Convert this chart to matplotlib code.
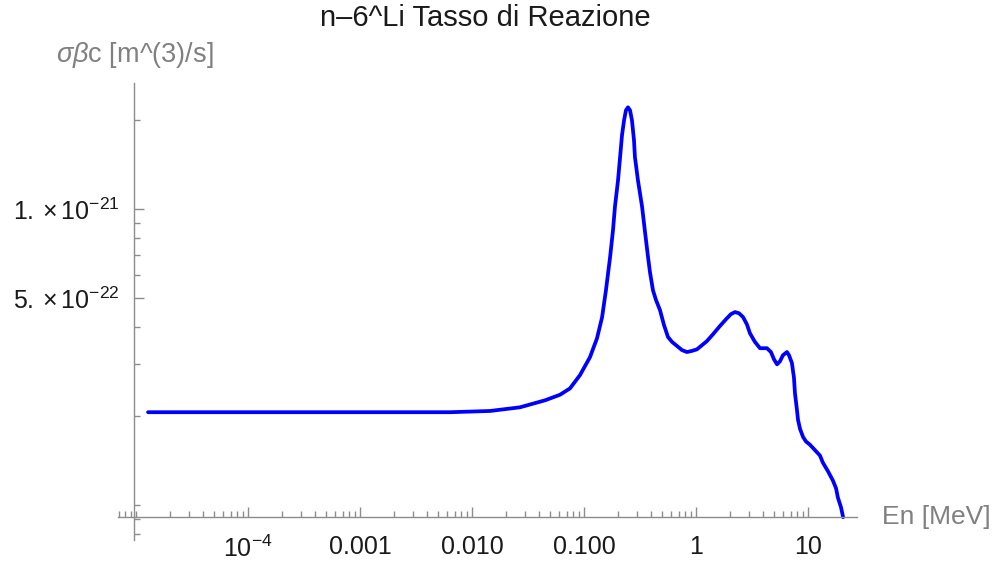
import numpy as np
import matplotlib.pyplot as plt
from matplotlib.ticker import FixedLocator, NullFormatter

plt.rcParams['font.family'] = ['Liberation Sans', 'DejaVu Sans']
plt.rcParams['mathtext.fontset'] = 'custom'
plt.rcParams['mathtext.rm'] = 'Liberation Sans'
plt.rcParams['mathtext.it'] = 'Liberation Sans:italic'

# neutron energy [MeV] and reaction rate sigma*beta*c [m^3/s]
energy = [1.28e-5, 1.04e-4, 8.1e-4, 6.4e-3, 0.0145, 0.0268, 0.0449, 0.0611,
          0.075, 0.0921, 0.113, 0.1306, 0.145, 0.157, 0.171, 0.1815, 0.189,
          0.2012, 0.21, 0.2185, 0.228, 0.237, 0.247, 0.2575, 0.268, 0.2795,
          0.285, 0.3034, 0.33, 0.3508, 0.373, 0.3884, 0.413, 0.4396, 0.477,
          0.5179, 0.562, 0.611, 0.676, 0.75, 0.831, 0.921, 1.02, 1.25, 1.42,
          1.637, 1.89, 2.053, 2.23, 2.42, 2.63, 2.85, 3.03, 3.36, 3.73, 3.96,
          4.30, 4.67, 4.97, 5.29, 5.62, 5.98, 6.49, 6.77, 7.19, 7.5, 7.65,
          7.98, 8.15, 8.49, 9.03, 9.6, 10.4, 12.0, 12.8, 13.6, 15.1, 16.7,
          17.8, 18.5, 19.7, 20.6]
rate = [2.06e-22, 2.06e-22, 2.06e-22, 2.06e-22, 2.08e-22, 2.14e-22, 2.26e-22,
        2.36e-22, 2.48e-22, 2.75e-22, 3.16e-22, 3.66e-22, 4.31e-22, 5.32e-22,
        6.89e-22, 8.49e-22, 1.02e-21, 1.25e-21, 1.50e-21, 1.78e-21, 2.00e-21,
        2.16e-21, 2.21e-21, 2.16e-21, 2.00e-21, 1.71e-21, 1.50e-21, 1.25e-21,
        1.02e-21, 8.36e-22, 6.89e-22, 6.12e-22, 5.32e-22, 4.93e-22, 4.56e-22,
        4.06e-22, 3.70e-22, 3.56e-22, 3.45e-22, 3.34e-22, 3.29e-22, 3.32e-22,
        3.36e-22, 3.58e-22, 3.78e-22, 4.03e-22, 4.28e-22, 4.42e-22, 4.49e-22,
        4.45e-22, 4.32e-22, 4.08e-22, 3.81e-22, 3.56e-22, 3.39e-22, 3.39e-22,
        3.39e-22, 3.29e-22, 3.11e-22, 2.99e-22, 3.06e-22, 3.21e-22, 3.29e-22,
        3.21e-22, 3.02e-22, 2.69e-22, 2.39e-22, 2.09e-22, 1.94e-22, 1.81e-22,
        1.70e-22, 1.64e-22, 1.60e-22, 1.51e-22, 1.47e-22, 1.39e-22, 1.30e-22,
        1.21e-22, 1.14e-22, 1.06e-22, 9.84e-23, 9.1e-23]

x_major = [1e-4, 1e-3, 1e-2, 1e-1, 1, 10]
x_labels = [r'$10^{-4}$', '0.001', '0.010', '0.100', '1', '10']
y_major = [5e-22, 1e-21]
y_labels = [r'$5.\times10^{-22}$', r'$1.\times10^{-21}$']
y_minor = [8e-23, 9e-23, 1e-22, 2e-22, 3e-22, 4e-22, 6e-22, 7e-22, 8e-22, 9e-22, 2e-21]

W, H = 995, 566
fig = plt.figure(figsize=(W / 100, H / 100), dpi=100)
ax = fig.add_axes([118 / W, (H - 540) / H, (857 - 118) / W, (540 - 83) / H])

ax.plot(energy, rate, color='#0000ff', lw=2.7, solid_capstyle='round',
        solid_joinstyle='round')

ax.set_xscale('log')
ax.set_yscale('log')
ax.set_xlim(6.9e-6, 27.4)
ax.set_ylim(7.62e-23, 2.67e-21)

# Mathematica-like axes crossing inside the frame
for s in ['top', 'right']:
    ax.spines[s].set_visible(False)
ax.spines['left'].set_position(('data', 9.6e-6))
ax.spines['bottom'].set_position(('data', 9.1e-23))
for s in ['left', 'bottom']:
    ax.spines[s].set_color('#8c8c8c')
    ax.spines[s].set_linewidth(1.0)

x_minor = [m * 10.0 ** d for d in range(-6, 2) for m in range(2, 10)] + [1e-5]
ax.xaxis.set_major_locator(FixedLocator(x_major))
ax.xaxis.set_minor_locator(FixedLocator(x_minor))
ax.set_xticklabels(x_labels)
ax.xaxis.set_minor_formatter(NullFormatter())

ax.yaxis.set_major_locator(FixedLocator(y_major))
ax.yaxis.set_minor_locator(FixedLocator(y_minor))
ax.set_yticklabels(y_labels)
ax.yaxis.set_minor_formatter(NullFormatter())

ax.tick_params(which='both', direction='in', color='#8c8c8c', width=1.0,
               labelcolor='#1a1a1a', labelsize=18)
ax.tick_params(which='major', length=7)
ax.tick_params(which='minor', length=4)
ax.tick_params(axis='x', which='major', pad=13)
ax.tick_params(axis='y', which='major', pad=10)

fig.text(485 / W, 1 - 18 / H, 'n\u20136^Li Tasso di Reazione', ha='center',
         va='center', fontsize=21, color='#1a1a1a')
fig.text(56 / W, 1 - 55 / H, r'$\sigma\beta$c [m^(3)/s]', ha='left',
         va='center', fontsize=19.5, color='#808080')
fig.text(882 / W, 1 - 517 / H, 'En [MeV]', ha='left', va='center',
         fontsize=19, color='#808080')

fig.savefig('out.png', dpi=100)
